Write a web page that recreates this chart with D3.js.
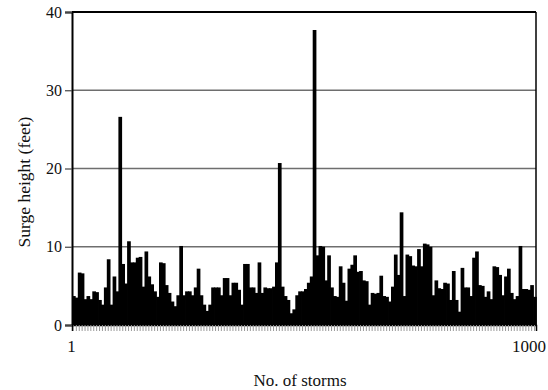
<!DOCTYPE html>
<meta charset="utf-8">
<script src="https://d3js.org/d3.v7.min.js"></script>
<style>
body { margin: 0; background: #fff; }
text { font-family: "Liberation Serif", "DejaVu Serif", serif; fill: #111; }
</style>
<body>
<script>
// surge height (feet) per storm bin, read left to right
var surge = [
  3.7, 3.5, 6.7, 6.6, 3.3, 3.7, 3.3, 4.3, 4.2, 3.2,
  2.6, 4.8, 8.4, 2.6, 6.2, 4.3, 26.6, 7.8, 5.3,
  10.7, 8.0, 8.0, 8.6, 8.7, 4.9, 9.4, 6.2, 5.2, 4.3,
  3.6, 8.0, 7.9, 5.1, 4.1, 3.0, 2.4, 3.8, 10.1, 3.8,
  4.3, 4.3, 3.8, 4.8, 7.2, 3.8, 2.6, 1.8, 2.6, 4.8,
  4.8, 4.8, 3.8, 6.0, 6.0, 3.8, 5.4, 5.4, 4.5, 2.6,
  7.8, 7.8, 4.8, 4.8, 4.1, 8.0, 4.1, 4.8, 4.7, 4.7,
  4.9, 8.0, 20.7, 4.9, 3.7, 3.2, 1.5, 2.0, 3.8, 4.3,
  4.3, 4.6, 5.4, 6.2, 37.7, 8.9, 10.1, 10.0, 5.7, 8.9, 4.8,
  3.7, 3.6, 7.5, 5.4, 3.1, 7.2, 7.7, 8.9, 6.8, 6.9,
  5.7, 5.6, 2.6, 4.1, 4.0, 4.1, 6.3, 3.7, 3.6, 3.0,
  4.9, 9.0, 6.4, 14.4, 3.7, 9.0, 8.8, 7.6, 7.5, 9.7,
  7.5, 10.4, 10.3, 10.0, 3.8, 5.7, 4.7, 4.6, 5.4, 5.3,
  3.2, 6.9, 3.2, 1.7, 7.3, 4.8, 4.8, 3.7, 8.6, 9.4,
  5.1, 5.0, 3.6, 4.3, 3.3, 7.5, 7.4, 6.4, 3.8, 6.2,
  7.2, 4.1, 3.3, 3.7, 10.1, 4.6, 4.6, 4.5, 5.1, 3.6
];
var yTicks = [0, 10, 20, 30, 40];
var xLabels = ["1", "1000"];

var width = 548, height = 390;
var margin = {top: 12, right: 12, bottom: 65, left: 72};

var svg = d3.select("body").append("svg")
    .attr("width", width)
    .attr("height", height);

var x = d3.scaleBand()
    .domain(d3.range(surge.length))
    .range([margin.left, width - margin.right])
    .padding(0);

var y = d3.scaleLinear()
    .domain([0, 40])
    .range([height - margin.bottom, margin.top]);

// gridlines
svg.append("g")
  .selectAll("line")
  .data(yTicks.slice(1, 4))
  .enter().append("line")
    .attr("x1", margin.left)
    .attr("x2", width - margin.right)
    .attr("y1", function(d) { return y(d); })
    .attr("y2", function(d) { return y(d); })
    .attr("stroke", "#6e6e6e")
    .attr("stroke-width", 1.5);

// bars
svg.append("g")
  .selectAll("rect")
  .data(surge)
  .enter().append("rect")
    .attr("x", function(d, i) { return x(i); })
    .attr("width", x.bandwidth() + 0.8)
    .attr("y", function(d) { return y(d); })
    .attr("height", function(d) { return y(0) - y(d); })
    .attr("fill", "#000");

// bottom minor ticks, one per bar
var xAxis = svg.append("g")
    .attr("transform", "translate(0," + y(0) + ")")
    .call(d3.axisBottom(x).tickSize(6).tickFormat(""));
xAxis.select(".domain").attr("stroke", "#000").attr("stroke-width", 1.5);
xAxis.selectAll(".tick line").attr("stroke", "#999");

// y axis
var yAxis = svg.append("g")
    .attr("transform", "translate(" + margin.left + ",0)")
    .call(d3.axisLeft(y).tickValues(yTicks).tickSize(7).tickPadding(3));
yAxis.select(".domain").attr("stroke", "#000").attr("stroke-width", 2);
yAxis.selectAll(".tick line").attr("stroke", "#444").attr("stroke-width", 1.2);
yAxis.selectAll(".tick text")
    .style("font-family", "'Liberation Serif', serif")
    .style("font-size", "16px")
    .attr("fill", "#222");

// frame top and right
svg.append("line")
    .attr("x1", margin.left).attr("x2", width - margin.right)
    .attr("y1", y(40)).attr("y2", y(40))
    .attr("stroke", "#000").attr("stroke-width", 2);
svg.append("line")
    .attr("x1", width - margin.right).attr("x2", width - margin.right)
    .attr("y1", y(40)).attr("y2", y(0))
    .attr("stroke", "#000").attr("stroke-width", 1.5);

// x labels at first and last storm
svg.append("text")
    .attr("x", x(0) + x.bandwidth() / 2 - 2)
    .attr("y", y(0) + 27)
    .attr("text-anchor", "middle")
    .style("font-size", "17px")
    .text(xLabels[0]);
svg.append("text")
    .attr("x", x(surge.length - 1) + x.bandwidth() + 10)
    .attr("y", y(0) + 27)
    .attr("text-anchor", "end")
    .style("font-size", "17px")
    .text(xLabels[1]);

// axis titles
svg.append("text")
    .attr("x", 300)
    .attr("y", 386)
    .attr("text-anchor", "middle")
    .style("font-size", "17px")
    .text("No. of storms");

svg.append("text")
    .attr("transform", "translate(30,182) rotate(-90)")
    .attr("text-anchor", "middle")
    .style("font-size", "17.5px")
    .text("Surge height (feet)");
</script>
</body>
</html>
